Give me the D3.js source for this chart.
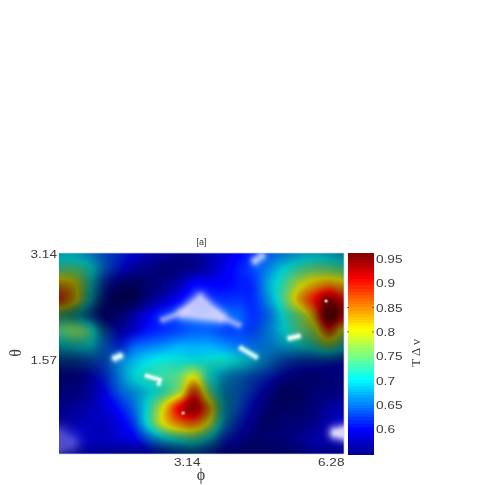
<!DOCTYPE html>
<html><head><meta charset="utf-8">
<script src="https://cdn.jsdelivr.net/npm/d3@7"></script>
<style>html,body{margin:0;background:#fff}#c{position:absolute;left:0;top:0}#s{position:absolute;left:0;top:0}</style>
</head><body><canvas id="c" width="485" height="485"></canvas><svg id="s" width="485" height="485"></svg>
<script>
const phiExtent=[0,6.28], thetaExtent=[0,3.14], valueExtent=[0.549,0.962];
const xTicks=[3.14,6.28], yTicks=[1.57,3.14], cTicks=[0.6,0.65,0.7,0.75,0.8,0.85,0.9,0.95], cMarked=[0.8,0.85];
// value grid (x100), rows from theta=3.14 down to 0, columns phi 0..6.28
const valueRows=[
[69,69,67,64,62,60,58,57,56,56,57,58,60,62,64,66,68,69,69,68],
[74,74,71,65,61,58,57,56,56,56,57,59,61,63,66,70,73,75,75,74],
[84,81,72,63,59,57,57,57,58,60,60,60,61,62,68,73,79,83,85,83],
[88,82,71,62,58,57,58,59,60,62,62,62,62,62,67,74,83,90,96,90],
[75,72,66,60,58,59,60,62,63,64,64,64,64,62,65,71,76,84,97,92],
[74,76,73,65,60,60,61,62,63,64,64,63,63,63,66,70,74,78,88,80],
[70,71,70,65,62,64,65,66,67,67,67,66,65,65,66,68,70,72,76,72],
[64,64,64,64,66,68,70,71,71,71,71,71,70,68,66,64,63,63,63,62],
[60,60,60,62,66,70,72,73,75,80,72,68,66,64,62,60,59,58,58,58],
[58,57,57,60,64,67,70,73,78,88,76,68,65,62,59,57,57,57,57,57],
[57,57,57,58,61,65,72,81,91,94,84,70,64,60,58,57,56,56,57,57],
[57,57,57,57,59,63,72,81,86,87,80,68,62,59,57,57,56,56,57,58],
[58,58,57,57,58,60,65,70,73,74,70,63,60,57,57,56,56,57,57,58],
[58,57,57,57,57,58,60,62,64,65,63,60,58,57,56,56,56,57,57,57]];
// lighting grid (percent brightness), same layout
const lightRows=[
[70,70,70,72,75,78,80,80,80,85,95,100,100,100,90,80,75,70,65,60],
[60,60,60,62,65,70,70,70,75,85,95,100,100,100,90,80,72,68,65,62],
[55,52,48,45,42,48,60,70,85,100,100,100,100,100,85,80,78,78,75,70],
[50,48,42,35,35,45,65,80,100,100,100,100,100,100,85,80,78,85,85,60],
[40,38,40,35,50,70,90,100,100,100,100,100,100,100,85,75,68,60,50,55],
[65,65,60,45,60,80,100,100,100,100,100,100,100,90,80,75,65,55,50,50],
[50,50,55,60,75,95,100,100,100,100,100,100,95,85,75,68,58,50,45,45],
[40,42,50,62,80,90,90,88,85,82,80,78,72,68,62,55,50,48,45,45],
[40,42,55,70,80,82,82,85,85,85,70,62,60,60,58,50,48,50,55,60],
[55,65,80,85,85,80,78,78,82,65,58,50,58,58,55,48,50,60,65,70],
[70,80,90,100,95,88,80,85,92,72,55,45,58,58,50,50,60,70,80,90],
[80,90,100,100,100,90,80,85,85,75,60,50,55,55,50,60,70,80,90,95],
[80,90,100,100,100,90,75,65,60,55,50,50,52,55,60,70,80,85,90,90],
[70,75,80,80,75,65,55,45,40,38,38,40,45,50,55,60,65,70,70,70]];
// specular highlights, as [phi, theta] outlines
const glossShapes=[
{pts:[[2.75,2.20],[3.11,2.42],[3.28,2.30],[3.55,2.14],[3.22,2.16]],closed:true,color:"#eee4ff",op:.8,s:7},
{pts:[[2.30,2.10],[2.85,2.25]],color:"#d8d0ff",op:.6,s:4},
{pts:[[3.40,2.20],[3.95,2.02]],color:"#d8d0ff",op:.6,s:4},
{pts:[[0,.28],[.22,.18],[0,.12]],closed:true,color:"#c8c0ff",op:.4,s:11},
{pts:[[6.10,.33],[6.28,.36],[6.28,.30]],closed:true,color:"#f4ecff",op:.9,s:7},
{pts:[[1.24,1.50],[1.34,1.53]],color:"#e0ffff",op:.95,s:4},
{pts:[[4.02,1.65],[4.33,1.52]],color:"#d8ffff",op:.9,s:3.2},
{pts:[[5.09,1.81],[5.27,1.84]],color:"#f4fff0",op:.95,s:3.2},
{pts:[[1.94,1.22],[2.22,1.16],[2.20,1.10]],color:"#f0fff8",op:.95,s:2.6},
{pts:[[4.33,3.02],[4.46,3.09]],color:"#c8daff",op:.8,s:5},
{pts:[[2.73,.64],[2.74,.64]],color:"#ffe8e8",op:.9,s:1.5},
{pts:[[5.88,2.39],[5.89,2.39]],color:"#ffe8e8",op:.9,s:1.5}];

const plot={l:59,r:344,t:253,b:454}, bar={l:348,r:374};
const x=d3.scaleLinear(phiExtent,[plot.l,plot.r]);
const y=d3.scaleLinear(thetaExtent,[plot.b,plot.t]);
const c=d3.scaleLinear(valueExtent,[plot.b,plot.t]);
const vt=d3.scaleLinear(valueExtent,[0,1]);
const jet=d3.scaleLinear([0,.125,.375,.625,.875,1],["#000090","#0000ff","#00ffff","#ffff00","#ff0000","#800000"]).clamp(true);

// Catmull-Rom through the grid values
function crom(arr,t){
  const n=arr.length-1, s=Math.min(n-1e-6,Math.max(0,t*n)), i=Math.floor(s), u=s-i;
  const p0=arr[Math.max(0,i-1)],p1=arr[i],p2=arr[i+1],p3=arr[Math.min(n,i+2)];
  return .5*(2*p1+(p2-p0)*u+(2*p0-5*p1+4*p2-p3)*u*u+(3*p1-p0-3*p2+p3)*u*u*u);
}
function field(rows,w,h){
  const cols=d3.range(w).map(i=>rows.map(r=>crom(r,i/(w-1))));
  return (i,j)=>crom(cols[i],j/(h-1));
}
function segDist(px,py,a,b){
  const dx=b[0]-a[0],dy=b[1]-a[1],l=dx*dx+dy*dy,t=l?Math.max(0,Math.min(1,((px-a[0])*dx+(py-a[1])*dy)/l)):0;
  return Math.hypot(px-a[0]-t*dx,py-a[1]-t*dy);
}
const gloss=glossShapes.map(g=>{
  const pts=g.pts.map(d=>[x(d[0]),y(d[1])]), col=d3.rgb(g.color);
  const segs=d3.pairs(g.closed?[...pts,pts[0]]:pts);
  return {pts,segs,col,op:g.op,s:g.s,closed:g.closed};
});
const W=plot.r-plot.l,H=plot.b-plot.t;
const fv=field(valueRows,W,H), fl=field(lightRows,W,H);
const ctx=document.getElementById("c").getContext("2d");
const img=ctx.createImageData(W,H);
for(let j=0;j<H;j++)for(let i=0;i<W;i++){
  const col=d3.rgb(jet(vt(fv(i,j)/100))), k=Math.min(1,fl(i,j)/100), p=(j*W+i)*4;
  let r=col.r*k,gg=col.g*k,b=col.b*k;
  const px=plot.l+i+.5,py=plot.t+j+.5;
  for(const g of gloss){
    let d=Infinity;
    if(g.closed&&d3.polygonContains(g.pts,[px,py]))d=0;
    else for(const s of g.segs)d=Math.min(d,segDist(px,py,s[0],s[1]));
    const a=g.op*Math.exp(-(d*d)/(g.s*g.s));
    r+=(g.col.r-r)*a;gg+=(g.col.g-gg)*a;b+=(g.col.b-b)*a;
  }
  img.data[p]=r;img.data[p+1]=gg;img.data[p+2]=b;img.data[p+3]=255;
}
ctx.putImageData(img,plot.l,plot.t);

const svg=d3.select("#s");
// colourbar
const step=(valueExtent[1]-valueExtent[0])/64;
const levels=d3.range(64).map(i=>valueExtent[0]+step*i);
svg.append("g").attr("shape-rendering","crispEdges").selectAll("rect").data(levels).join("rect")
  .attr("x",bar.l).attr("width",bar.r-bar.l)
  .attr("y",d=>c(d+step)).attr("height",d=>c(d)-c(d+step)+1)
  .attr("fill",d=>jet(vt(d+step/2)));
svg.append("g").selectAll("line").data(cMarked.flatMap(v=>[[v,bar.l-1,bar.l+1],[v,bar.r-2,bar.r]])).join("line")
  .attr("x1",d=>d[1]).attr("x2",d=>d[2]).attr("y1",d=>c(d[0])).attr("y2",d=>c(d[0])).attr("stroke","#333").attr("stroke-width",.7);

const font="Liberation Sans, Arial, sans-serif", tc="#3a3a3a";
function styled(g){g.select(".domain").remove();g.selectAll(".tick line").remove();
  g.selectAll("text").attr("font-family",font).attr("font-size",11).attr("fill",tc)
   .attr("textLength",26.5).attr("lengthAdjust","spacingAndGlyphs");}
svg.append("g").attr("transform",`translate(0,${plot.b})`)
  .call(d3.axisBottom(x).tickValues(xTicks).tickFormat(d3.format(".2f")).tickSize(0).tickPadding(3)).call(styled)
  .selectAll("text").attr("text-anchor","end").attr("dx",d=>d===xTicks[0]?-1.5:0).attr("dy",0).attr("y",12);
svg.append("g").attr("transform",`translate(${plot.l},0)`)
  .call(d3.axisLeft(y).tickValues(yTicks).tickFormat(d3.format(".2f")).tickSize(0).tickPadding(2)).call(styled)
  .selectAll("text").attr("dy",d=>d===yTicks[1]?4:9.5);
svg.append("g").attr("transform",`translate(${bar.r},0)`)
  .call(d3.axisRight(c).tickValues(cTicks).tickFormat(d=>String(+d.toFixed(2))).tickSize(0).tickPadding(2)).call(styled)
  .selectAll("text").attr("textLength",d=>d===0.8||d===0.9||d===0.7||d===0.6?19:26.5);
// frame edges
svg.append("path").attr("d",`M${plot.l},${plot.t}H${plot.r}M${plot.l},${plot.b}H${plot.r}M${plot.r},${plot.t}V${plot.b}`)
  .attr("stroke","#c8d0d8").attr("stroke-width",.7).attr("fill","none");
svg.append("text").attr("x",201.5).attr("y",245).attr("text-anchor","middle").attr("font-family",font).attr("font-size",9).attr("fill",tc).text("[a]");
const serif="Liberation Serif, DejaVu Serif, serif";
svg.append("text").attr("x",201).attr("y",480).attr("text-anchor","middle").attr("font-family",serif).attr("font-size",16).attr("fill",tc).text("ϕ");
svg.append("text").attr("transform","translate(21,353) rotate(-90)").attr("text-anchor","middle").attr("font-family",serif).attr("font-size",16).attr("fill",tc).text("θ");
svg.append("text").attr("transform","translate(420,353) rotate(-90)").attr("text-anchor","middle").attr("font-family",serif).attr("font-size",13).attr("fill",tc).text("T Δ ν");
</script></body></html>
